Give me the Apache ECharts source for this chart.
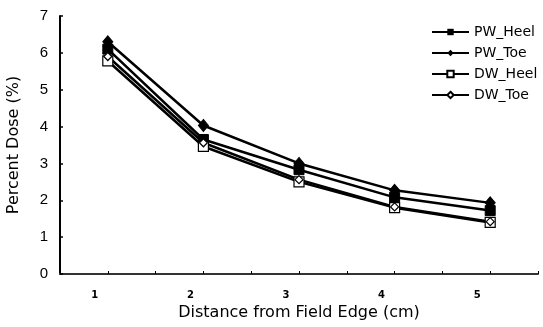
<!DOCTYPE html>
<html>
<head>
<meta charset="utf-8">
<script src="https://cdn.jsdelivr.net/npm/echarts@6/dist/echarts.min.js"></script>
<style>
  html, body { margin: 0; padding: 0; background: #fff; }
  #chart { width: 543px; height: 327px; }
</style>
</head>
<body>
<div id="chart"></div>
<script>
// distance from field edge (cm)
const distances = [1, 2, 3, 4, 5];
const pwHeel = [6.1, 3.65, 2.83, 2.08, 1.72];
const pwToe = [6.3, 4.03, 3.0, 2.27, 1.93];
const dwHeel = [5.78, 3.46, 2.5, 1.8, 1.4];
const dwToe = [5.9, 3.56, 2.56, 1.82, 1.42];

const toPairs = (vals) => distances.map((d, i) => [d, vals[i]]);

const chart = echarts.init(document.getElementById("chart"));

const baseSeries = {
  type: "line",
  lineStyle: { color: "#000", width: 2.5 },
  animation: false,
};

const option = {
  backgroundColor: "#fff",
  textStyle: { fontFamily: "DejaVu Sans" },
  grid: { left: 60, right: 5, top: 16, bottom: 53, outerBoundsMode: "none" },
  legend: {
    orient: "vertical",
    left: 426,
    top: 20,
    itemWidth: 37,
    itemHeight: 8,
    itemGap: 7,
    textStyle: { fontSize: 14, color: "#000", fontFamily: "DejaVu Sans" },
    data: ["PW_Heel", "PW_Toe", "DW_Heel", "DW_Toe"],
  },
  xAxis: {
    type: "value",
    min: 0.5,
    max: 5.5,
    interval: 0.5,
    name: "Distance from Field Edge (cm)",
    nameLocation: "middle",
    nameGap: 31,
    nameTextStyle: { fontSize: 16, color: "#000", fontFamily: "DejaVu Sans" },
    axisLine: { lineStyle: { color: "#333", width: 2 } },
    axisTick: { inside: true, length: 3, lineStyle: { color: "#000", width: 1 } },
    splitLine: { show: false },
    axisLabel: {
      fontSize: 10,
      fontWeight: "bold",
      color: "#000",
      margin: 16,
      padding: [0, 26, 0, 0],
      formatter: (v) => (Number.isInteger(v) ? String(v) : ""),
    },
  },
  yAxis: {
    type: "value",
    min: 0,
    max: 7,
    interval: 1,
    name: "Percent Dose (%)",
    nameLocation: "middle",
    nameGap: 38,
    nameTextStyle: { fontSize: 16, color: "#000", fontFamily: "DejaVu Sans" },
    axisLine: { show: true, lineStyle: { color: "#000", width: 2 } },
    axisTick: { show: true, inside: true, length: 3, lineStyle: { color: "#000", width: 1.5 } },
    splitLine: { show: false },
    axisLabel: { fontSize: 15, color: "#000", margin: 12, fontFamily: "Liberation Sans" },
  },
  series: [
    Object.assign({}, baseSeries, {
      name: "PW_Heel",
      data: toPairs(pwHeel),
      symbol: "rect",
      symbolSize: 10,
      itemStyle: { color: "#000", borderColor: "#000" },
    }),
    Object.assign({}, baseSeries, {
      name: "PW_Toe",
      data: toPairs(pwToe),
      symbol: "diamond",
      symbolSize: [10, 12],
      itemStyle: { color: "#000", borderColor: "#000" },
    }),
    Object.assign({}, baseSeries, {
      name: "DW_Heel",
      data: toPairs(dwHeel),
      symbol: "rect",
      symbolSize: 10,
      itemStyle: { color: "#fff", borderColor: "#000", borderWidth: 1.2 },
    }),
    Object.assign({}, baseSeries, {
      name: "DW_Toe",
      data: toPairs(dwToe),
      symbol: "diamond",
      symbolSize: 8,
      itemStyle: { color: "#fff", borderColor: "#000", borderWidth: 1.2 },
    }),
  ],
};

chart.setOption(option);
</script>
</body>
</html>
